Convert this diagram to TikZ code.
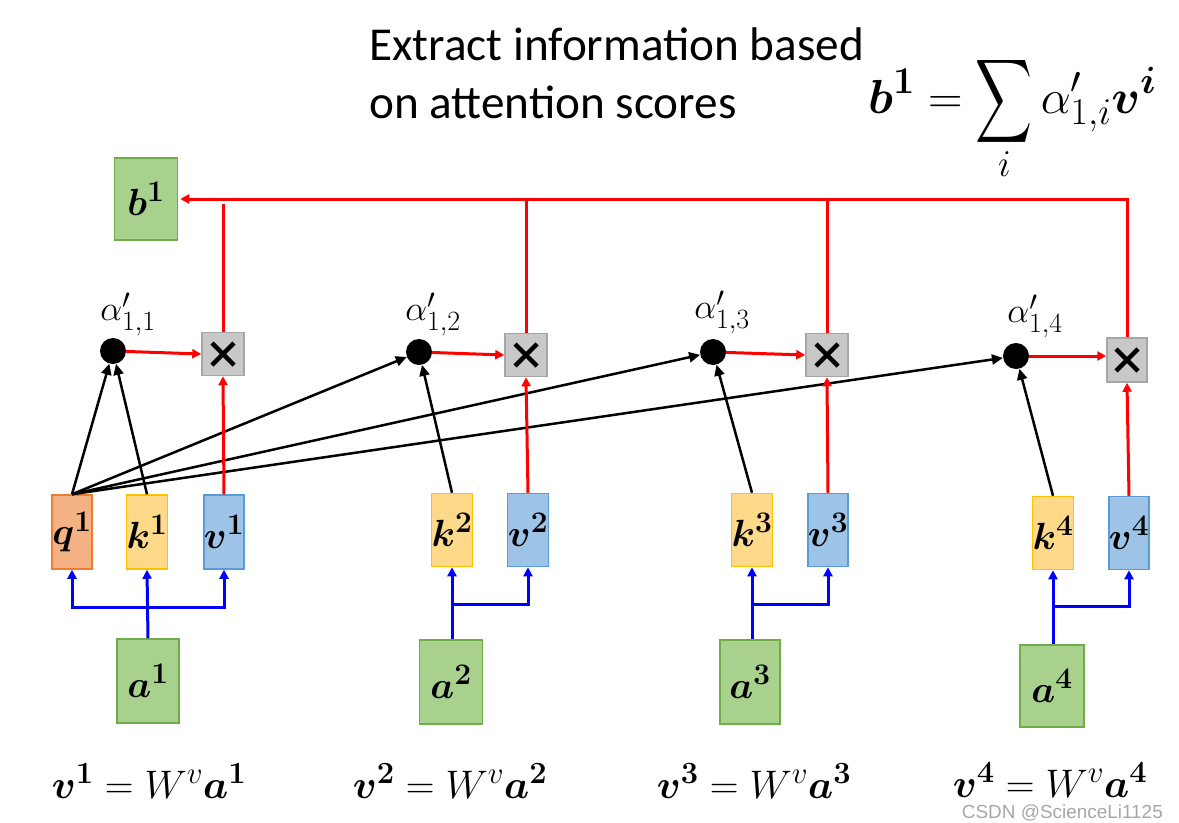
\RequirePackage{fix-cm}
\documentclass[tikz,border=0pt]{standalone}
\usepackage{graphicx}
\usepackage{amsmath,bm}
\usepackage{fontspec}
\newfontfamily\titlefont{Carlito}
\newfontfamily\wmfont{Liberation Sans}
\usetikzlibrary{arrows.meta,calc}
\DeclareMathSizes{38}{38}{30}{24}
\DeclareMathSizes{40}{40}{31}{24}
\DeclareMathSizes{35}{35}{28}{22}
\DeclareMathSizes{48}{48}{38}{30}
\definecolor{gfill}{HTML}{A9D18E}
\definecolor{gline}{HTML}{70AD47}
\definecolor{ofill}{HTML}{F4B183}
\definecolor{oline}{HTML}{ED7D31}
\definecolor{yfill}{HTML}{FFD98A}
\definecolor{yline}{HTML}{FFC000}
\definecolor{bfill}{HTML}{9DC3E6}
\definecolor{bline}{HTML}{5B9BD5}
\definecolor{xfill}{HTML}{C8C8C8}
\definecolor{xline}{HTML}{A6A6A6}
\definecolor{redl}{HTML}{FF0000}
\definecolor{bluel}{HTML}{0000FF}
\newcommand{\bsup}[2]{\bm{#1}^{\bm{#2}}}
\newcommand{\bigsum}{\mathop{\vcenter{\hbox{\resizebox{57bp}{75bp}{$\displaystyle\sum$}}}}\limits}
\tikzset{
  box/.style={draw, line width=1.5bp, inner sep=0pt, font=\fontsize{38}{40}\selectfont},
  gbox/.style={box, fill=gfill, draw=gline},
  qbox/.style={box, fill=ofill, draw=oline},
  kbox/.style={box, fill=yfill, draw=yline},
  vbox/.style={box, fill=bfill, draw=bline},
  xbox/.style={draw=xline, fill=xfill, line width=1.5bp, minimum width=42bp, minimum height=43bp, inner sep=0pt},
  dotn/.style={circle, fill=black, minimum size=26bp, inner sep=0pt},
  alab/.style={font=\fontsize{35}{37}\selectfont, inner sep=0pt},
  redarr/.style={draw=redl, line width=3bp, -{Triangle[length=9bp,width=9bp]}},
  redln/.style={draw=redl, line width=3bp},
  bluearr/.style={draw=bluel, line width=3bp, -{Triangle[length=9bp,width=9bp]}},
  blkarr/.style={draw=black, line width=2.5bp, -{Triangle[length=11bp,width=10bp]}},
  eqn/.style={font=\fontsize{40}{44}\selectfont},
}
\newcommand{\xmark}{\tikz[x=1bp,y=1bp]{\draw[line width=4.5bp] (-11,-11)--(11,11) (-11,11)--(11,-11);}}
\begin{document}
\begin{tikzpicture}[x=1bp,y=-1bp]
\useasboundingbox (0,0) rectangle (1179,823);
% title
\node[anchor=north west, align=left, inner sep=0pt, font=\titlefont\fontsize{47.4}{58}\selectfont] (title) at (369,28) {Extract information based\\on attention scores};
\node[anchor=base west, inner sep=0pt, font=\fontsize{48}{50}\selectfont] (formula) at (868,113) {$\displaystyle \bsup{b}{1}=\bigsum_{i}\alpha'_{1,i}\bsup{v}{i}$};
% b1
\node[gbox, minimum width=63bp, minimum height=82bp] (b1) at (146,199) {$\bsup{b}{1}$};
% group boxes
\node[qbox, minimum width=40bp, minimum height=74bp] (q1) at (72,532) {$\bsup{q}{1}$};
\node[kbox, minimum width=39bp, minimum height=74bp] (k1) at (147,532) {$\bsup{k}{1}$};
\node[vbox, minimum width=40bp, minimum height=74bp] (v1) at (224,532) {$\bsup{v}{1}$};
\node[gbox, minimum width=62bp, minimum height=84bp] (a1) at (148,681) {$\bsup{a}{1}$};
\node[kbox, minimum width=40bp, minimum height=73bp] (k2) at (452,530) {$\bsup{k}{2}$};
\node[vbox, minimum width=41bp, minimum height=73bp] (v2) at (528,530) {$\bsup{v}{2}$};
\node[gbox, minimum width=63bp, minimum height=84bp] (a2) at (451,682) {$\bsup{a}{2}$};
\node[kbox, minimum width=39bp, minimum height=73bp] (k3) at (752,530) {$\bsup{k}{3}$};
\node[vbox, minimum width=40bp, minimum height=73bp] (v3) at (828,530) {$\bsup{v}{3}$};
\node[gbox, minimum width=60bp, minimum height=84bp] (a3) at (750,682) {$\bsup{a}{3}$};
\node[kbox, minimum width=40bp, minimum height=73bp] (k4) at (1053,533) {$\bsup{k}{4}$};
\node[vbox, minimum width=40bp, minimum height=73bp] (v4) at (1129,533) {$\bsup{v}{4}$};
\node[gbox, minimum width=64bp, minimum height=82bp] (a4) at (1052,686) {$\bsup{a}{4}$};
% multiply boxes
\node[xbox] (x1) at (223,354) {\xmark};
\node[xbox] (x2) at (526,355) {\xmark};
\node[xbox] (x3) at (827,355) {\xmark};
\node[xbox, minimum width=40bp, minimum height=44bp] (x4) at (1127,360) {\xmark};
% dots
\node[dotn] (d1) at (113,351) {};
\node[dotn] (d2) at (419,352) {};
\node[dotn] (d3) at (713,352) {};
\node[dotn] (d4) at (1016,356) {};
\node[alab] (l1) at (128,314) {$\alpha'_{1,1}$};
\node[alab] (l2) at (433,314) {$\alpha'_{1,2}$};
\node[alab] (l3) at (722,312) {$\alpha'_{1,3}$};
\node[alab] (l4) at (1035,316) {$\alpha'_{1,4}$};
% black arrows
\draw[blkarr] (q1.north) -- (d1);
\draw[blkarr] (k1.north) -- (d1);
\draw[blkarr] (q1.north) -- (d2);
\draw[blkarr] (q1.north) -- (d3);
\draw[blkarr] (q1.north) -- (d4);
\draw[blkarr] (k2.north) -- (d2);
\draw[blkarr] (k3.north) -- (d3);
\draw[blkarr] (k4.north) -- (d4);
% red arrows dot -> x
\draw[redarr] (d1) -- (x1.west);
\draw[redarr] (d2) -- (x2.west);
\draw[redarr] (d3) -- (x3.west);
\draw[redarr] (d4) -- (x4.west |- d4);
% red arrows v -> x
\draw[redarr] (v1.north) -- (x1.south);
\draw[redarr] (v2.north) -- (x2.south);
\draw[redarr] (v3.north) -- (x3.south);
\draw[redarr] (v4.north) -- (x4.south);
% top red line
\coordinate (t4) at (x4.north |- b1.east);
\draw[redln] (x1.north) -- ($(x1.north |- b1.east)+(0,5)$);
\draw[redln] (x2.north) -- (x2.north |- b1.east);
\draw[redln] (x3.north) -- (x3.north |- b1.east);
\draw[redarr, shorten >=2bp] (x4.north) -- (t4) -- (b1.east);
% blue arrows
\coordinate (j1) at (147,607);
\draw[bluearr] (a1.north) -- (k1.south);
\draw[bluearr] (j1) -| (q1.south);
\draw[bluearr] (j1) -| (v1.south);
\coordinate (j2) at (452,604);
\draw[bluearr] (a2.north -| k2.south) -- (k2.south);
\draw[bluearr] (j2) -| (v2.south);
\coordinate (j3) at (752,604);
\draw[bluearr] (a3.north -| k3.south) -- (k3.south);
\draw[bluearr] (j3) -| (v3.south);
\coordinate (j4) at (1053,606);
\draw[bluearr] (a4.north -| k4.south) -- (k4.south);
\draw[bluearr] (j4) -| (v4.south);
% bottom equations
\node[eqn] (e1) at (149,781) {$\bsup{v}{1}=W^v\bsup{a}{1}$};
\node[eqn] (e2) at (450,781) {$\bsup{v}{2}=W^v\bsup{a}{2}$};
\node[eqn] (e3) at (754,781) {$\bsup{v}{3}=W^v\bsup{a}{3}$};
\node[eqn] (e4) at (1050,780) {$\bsup{v}{4}=W^v\bsup{a}{4}$};
% watermark
\node[anchor=base east, inner sep=0pt, text=gray!70, font=\wmfont\fontsize{19}{21}\selectfont] (wm) at (1163,818) {CSDN @ScienceLi1125};
\end{tikzpicture}
\end{document}
